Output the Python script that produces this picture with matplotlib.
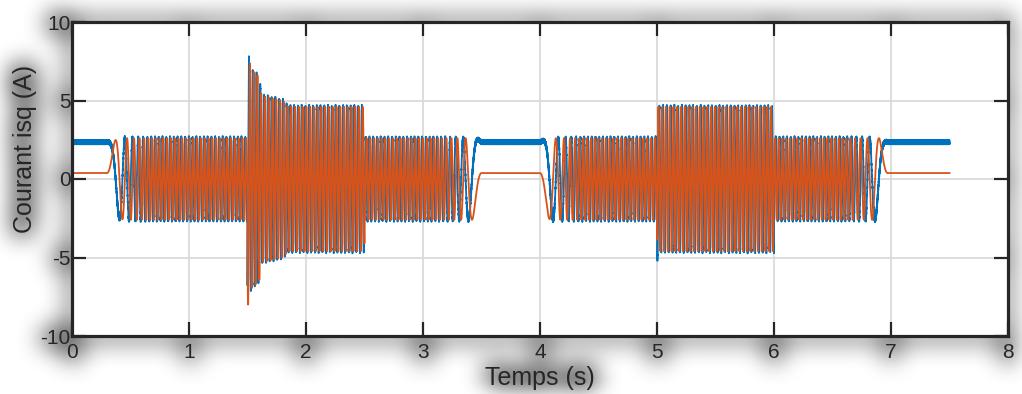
import numpy as np
import matplotlib
matplotlib.use('Agg')
import matplotlib.pyplot as plt

plt.rcParams['font.family'] = ['Liberation Sans', 'DejaVu Sans']
plt.rcParams['axes.unicode_minus'] = False

# Profil de vitesse (frequence electrique en Hz) : demarrage, arret, inversion
t_vit = [0.0, 0.30, 0.67, 3.13, 3.50, 4.00, 4.37, 6.60, 6.97, 7.50]
f_vit = [0.0, 0.0, 31.0, 31.0, 0.0, 0.0, -31.0, -31.0, 0.0, 0.0]
mouvements = [(0.30, 3.50), (4.00, 6.97)]

# Enveloppe du courant (A) : repos, charge legere, echelons de charge a 1.5 s et 5 s
t_amp = [0.0, 0.004, 0.30, 0.45, 1.4995, 1.50, 1.53, 1.60, 1.62, 1.80, 1.85,
         2.4995, 2.50, 3.45, 3.50, 4.00, 4.10, 4.9995, 5.00, 5.01, 5.9995,
         6.00, 6.90, 6.97, 7.50]
amp = [0.0, 2.38, 2.38, 2.60, 2.60, 8.20, 7.00, 6.50, 5.30, 5.00, 4.60,
       4.60, 2.60, 2.60, 2.38, 2.38, 2.60, 2.60, 5.40, 4.60, 4.60,
       2.60, 2.60, 2.38, 2.38]
angle_repos = 0.16   # rad, position au repos (isq ~ 2.35 A / 0.38 A)
ondulation = 0.14    # A, ondulation MLI sur la voie bleue
f_ondulation = 480.0

x_ticks = [0, 1, 2, 3, 4, 5, 6, 7, 8]
y_ticks = [-10, -5, 0, 5, 10]

# ---- signaux
dt = 0.0005
t = np.arange(0, 7.5 + dt, dt)
f = np.interp(t, t_vit, f_vit)
dphi = 2 * np.pi * f * dt
for a, b in mouvements:
    m = (t >= a) & (t < b)
    tot = dphi[m].sum()
    dphi[m] *= np.round(tot / (2 * np.pi)) * 2 * np.pi / tot
phi = np.cumsum(dphi) + angle_repos
A = np.interp(t, t_amp, amp)
i_bleu = A * np.cos(phi) + ondulation * np.sin(2 * np.pi * f_ondulation * t)
i_orange = A * np.sin(phi)

# ---- figure
fig = plt.figure(figsize=(10.22, 3.94), dpi=100, facecolor='white')
ax = fig.add_axes([72 / 1022, 1 - 336 / 394, 936 / 1022, 314 / 394])
ax.set_facecolor('white')

l1, = ax.plot(t, i_bleu, color='#0072BD', lw=1.3)
l2, = ax.plot(t, i_orange, color='#D95319', lw=1.3)

ax.set_xlim(0, 8)
ax.set_ylim(-10, 10)
ax.set_xticks(x_ticks)
ax.set_yticks(y_ticks)
ax.grid(True, color='#dadada', lw=1.3)
ax.set_axisbelow(True)
for s in ax.spines.values():
    s.set_linewidth(2.3)
    s.set_color('#262626')
ax.tick_params(direction='in', top=True, right=True, length=10, width=1.6,
               color='#262626', labelcolor='#262626', labelsize=15)
ax.tick_params(axis='y', pad=1)
ax.tick_params(axis='x', pad=5)
ax.set_xlabel('Temps (s)', fontsize=18, color='#262626')
ax.set_ylabel('Courant isq (A)', fontsize=18, color='#262626')
ax.xaxis.set_label_coords(0.5, -0.095)
ax.yaxis.set_label_coords(-0.037, 0.595)


# ombre grise floue autour du cadre et des textes
def flou(a, r, axis):
    pad = [(r + 1, r) if k == axis else (0, 0) for k in range(2)]
    c = np.cumsum(np.pad(a, pad), axis=axis)
    n = a.shape[axis]
    hi = np.take(c, np.arange(2 * r + 1, 2 * r + 1 + n), axis=axis)
    lo = np.take(c, np.arange(0, n), axis=axis)
    return (hi - lo) / (2 * r + 1)


def decale(a, dy, dx):
    h, w = a.shape
    p = np.pad(a, 4)
    return p[4 + dy:4 + dy + h, 4 + dx:4 + dx + w]


l1.set_visible(False)
l2.set_visible(False)
fig.canvas.draw()
img = np.asarray(fig.canvas.buffer_rgba())[..., :3].astype(float)
l1.set_visible(True)
l2.set_visible(True)

encre = 1 - img.mean(axis=2) / 255
dil = encre.copy()
for dy in range(-3, 4):
    for dx in range(-3, 4):
        dil = np.maximum(dil, decale(encre, dy, dx))
for _ in range(3):
    dil = flou(dil, 11, 0)
    dil = flou(dil, 11, 1)
alpha = np.clip(dil * 0.9, 0, 0.5)
ombre = np.zeros(alpha.shape + (4,))
ombre[..., 3] = alpha
fig.figimage(ombre, xo=0, yo=0, origin='upper', zorder=-1)

fig.savefig('out.png', dpi=100, facecolor='white')
